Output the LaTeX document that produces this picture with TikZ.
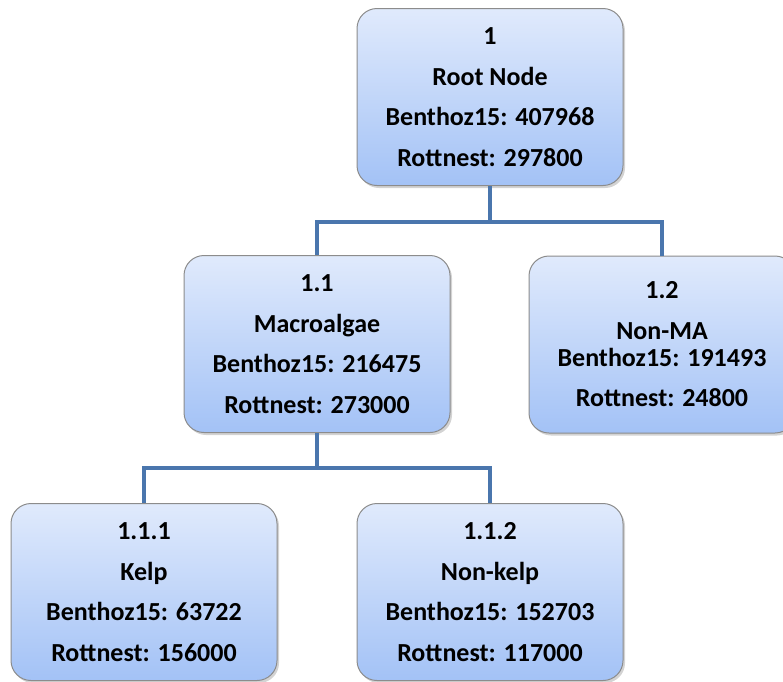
\documentclass[tikz,border=0pt]{standalone}
\usepackage{fontspec}
\setmainfont{Carlito}
\usetikzlibrary{shadows}
\definecolor{linkblue}{RGB}{74,118,173}
\definecolor{boxtop}{RGB}{224,234,252}
\definecolor{boxbottom}{RGB}{163,194,246}

\begin{document}
\begin{tikzpicture}[x=1pt,y=-1pt,
  box/.style={draw=black!45,line width=1pt,rounded corners=20pt,
    top color=boxtop,bottom color=boxbottom,
    minimum width=266pt,minimum height=177pt,inner sep=0pt,align=center,
    font=\fontsize{26}{40.5}\selectfont\bfseries,
    drop shadow={shadow xshift=2pt,shadow yshift=-2.5pt,opacity=0.35}},
  link/.style={draw=linkblue,line width=3.5pt}]
\useasboundingbox (0,0) rectangle (783,681);
\node[box] (root) at (490,97) {1\\Root Node\\Benthoz15: 407968\\Rottnest: 297800};
\node[box] (ma) at (317,344) {1.1\\Macroalgae\\Benthoz15: 216475\\Rottnest: 273000};
\node[box] (nonma) at (662,344.5) {1.2\\Non-MA\\[-13.5pt]Benthoz15: 191493\\Rottnest: 24800};
\node[box] (kelp) at (144,592) {1.1.1\\Kelp\\Benthoz15: 63722\\Rottnest: 156000};
\node[box] (nonkelp) at (490,592) {1.1.2\\Non-kelp\\Benthoz15: 152703\\Rottnest: 117000};
\coordinate (j1) at (490,222);
\coordinate (j2) at (317,468);
% tree links
\draw[link] (root.south) -- (j1);
\draw[link] (j1) -| (ma.north);
\draw[link] (j1) -| (nonma.north);
\draw[link] (ma.south) -- (j2);
\draw[link] (j2) -| (kelp.north);
\draw[link] (j2) -| (nonkelp.north);
\end{tikzpicture}
\end{document}
